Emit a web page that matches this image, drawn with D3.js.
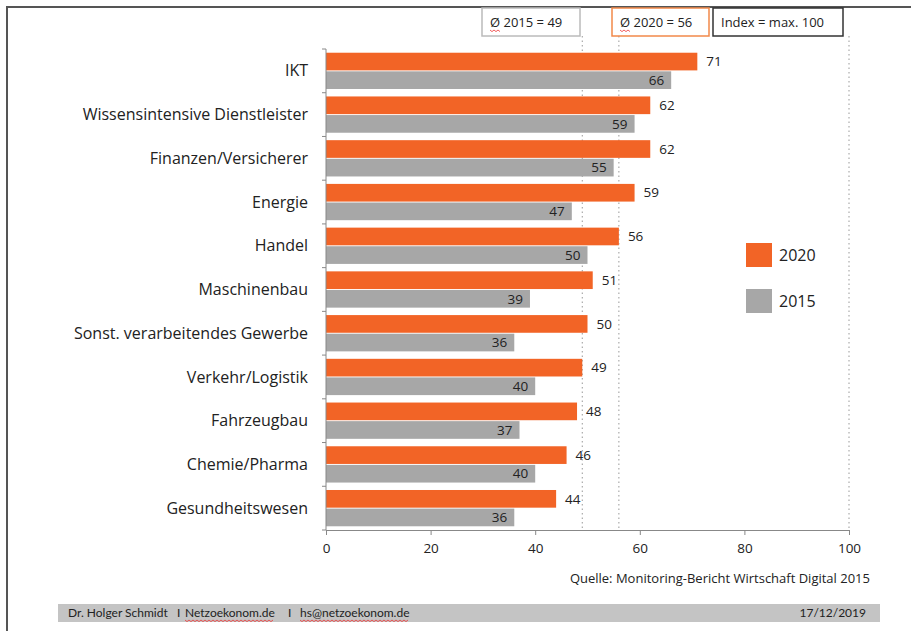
<!DOCTYPE html>
<html>
<head>
<meta charset="utf-8">
<script src="https://cdn.jsdelivr.net/npm/d3@7"></script>
<style>
  body { margin: 0; background: #fff; }
  svg { font-family: Lato, "Open Sans", sans-serif; }
</style>
</head>
<body>
<svg width="911" height="631"></svg>
<script>
const ORANGE = "#F26426";
const GREY = "#A7A7A7";

// Data
const categories = ["IKT", "Wissensintensive Dienstleister", "Finanzen/Versicherer", "Energie", "Handel",
  "Maschinenbau", "Sonst. verarbeitendes Gewerbe", "Verkehr/Logistik", "Fahrzeugbau", "Chemie/Pharma", "Gesundheitswesen"];
const values2020 = [71, 62, 62, 59, 56, 51, 50, 49, 48, 46, 44];
const values2015 = [66, 59, 55, 47, 50, 39, 36, 40, 37, 40, 36];
const seriesNames = ["2020", "2015"];
const xTicks = [0, 20, 40, 60, 80, 100];
const avgLines = [49, 56, 100];
const boxTexts = ["Ø 2015 = 49", "Ø 2020 = 56", "Index = max. 100"];
const footerParts = ["Dr. Holger Schmidt", "I", "Netzoekonom.de", "I", "hs@netzoekonom.de"];

var svg = d3.select("svg");

// frame
svg.append("path")
  .attr("d", "M7,631 V7 H911")
  .attr("fill", "none")
  .attr("stroke", "#555")
  .attr("stroke-width", 2);

var x = d3.scaleLinear().domain([0, 100]).range([326, 849]);
var y = d3.scaleBand().domain(categories).range([49, 530]);
var sub = d3.scaleBand().domain(seriesNames).range([0, y.bandwidth()]).paddingOuter(0.2).paddingInner(0.05);

function wavy(x0, x1, yy) {
  var pts = d3.range(x0, x1, 2).map((px, k) => [px, yy + (k % 2) * 1.6]);
  return d3.line()(pts);
}

// dotted reference lines
svg.selectAll(".ref")
  .data(avgLines)
  .enter().append("line")
  .attr("x1", d => x(d)).attr("x2", d => x(d))
  .attr("y1", 36).attr("y2", 530)
  .attr("stroke", "#999")
  .attr("stroke-width", 1)
  .attr("stroke-dasharray", "1.5,3");

// bars
var g = svg.append("g");
categories.forEach(function (c, i) {
  var y0 = y(c);
  g.append("rect")
    .attr("x", x(0)).attr("y", y0 + sub("2020"))
    .attr("width", x(values2020[i]) - x(0)).attr("height", sub.bandwidth())
    .attr("fill", ORANGE);
  g.append("rect")
    .attr("x", x(0)).attr("y", y0 + sub("2015"))
    .attr("width", x(values2015[i]) - x(0)).attr("height", sub.bandwidth())
    .attr("fill", GREY);
  g.append("text")
    .attr("x", x(values2020[i]) + 9).attr("y", y0 + sub("2020") + sub.bandwidth() / 2)
    .attr("dy", "0.35em").attr("font-size", 13.5).attr("fill", "#222")
    .attr("font-family", "'Open Sans', sans-serif")
    .text(values2020[i]);
  g.append("text")
    .attr("x", x(values2015[i]) - 7).attr("y", y0 + sub("2015") + sub.bandwidth() / 2)
    .attr("dy", "0.35em").attr("font-size", 13.5).attr("fill", "#222")
    .attr("font-family", "'Open Sans', sans-serif")
    .attr("text-anchor", "end")
    .text(values2015[i]);
  g.append("text")
    .attr("x", 308).attr("y", y0 + y.bandwidth() / 2)
    .attr("dy", "0.35em").attr("font-size", 16).attr("fill", "#222")
    .attr("font-family", "'Open Sans', sans-serif")
    .attr("text-anchor", "end")
    .text(c);
});

// left axis line with ticks at band boundaries
svg.append("line")
  .attr("x1", x(0)).attr("x2", x(0)).attr("y1", 49).attr("y2", 530)
  .attr("stroke", "#888");
svg.selectAll(".ytick")
  .data(d3.range(categories.length + 1))
  .enter().append("line")
  .attr("x1", x(0) - 4).attr("x2", x(0))
  .attr("y1", i => 49 + i * y.step()).attr("y2", i => 49 + i * y.step())
  .attr("stroke", "#888");

// bottom axis
var xAxis = svg.append("g")
  .attr("transform", "translate(0,530)")
  .call(d3.axisBottom(x).tickValues(xTicks).tickSize(5).tickSizeOuter(0).tickPadding(8));
xAxis.select(".domain").attr("stroke", "#888");
xAxis.selectAll(".tick line").attr("stroke", "#888");
xAxis.selectAll("text").attr("font-size", 13.5).attr("fill", "#222").attr("font-family", "'Open Sans', sans-serif");

// boxes at top
var boxes = [
  { x0: 482, x1: 580, stroke: "#bbb" },
  { x0: 612, x1: 709, stroke: "#F2894A" },
  { x0: 713, x1: 843, stroke: "#333" }
];
boxes.forEach(function (b, i) {
  svg.append("rect")
    .attr("x", b.x0).attr("y", 8).attr("width", b.x1 - b.x0).attr("height", 28)
    .attr("fill", "#fff").attr("stroke", b.stroke).attr("stroke-width", 1.5);
  svg.append("text")
    .attr("x", b.x0 + 8).attr("y", 22).attr("dy", "0.35em")
    .attr("font-size", 13).attr("fill", "#222")
    .attr("font-family", "'Open Sans', sans-serif")
    .text(boxTexts[i]);
  if (i < 2) {
    svg.append("path")
      .attr("d", wavy(b.x0 + 8, b.x0 + 19, 30))
      .attr("fill", "none").attr("stroke", "#e33").attr("stroke-width", 0.8);
  }
});

// legend
var legend = svg.append("g");
seriesNames.forEach(function (s, i) {
  legend.append("rect")
    .attr("x", 746).attr("y", 243 + i * 46).attr("width", 26).attr("height", 24)
    .attr("fill", i === 0 ? ORANGE : GREY);
  legend.append("text")
    .attr("x", 779).attr("y", 255 + i * 46).attr("dy", "0.35em")
    .attr("font-size", 16).attr("fill", "#222")
    .attr("font-family", "'Open Sans', sans-serif")
    .text(s);
});

// source
svg.append("text")
  .attr("x", 870).attr("y", 578).attr("dy", "0.35em")
  .attr("text-anchor", "end").attr("font-size", 13).attr("fill", "#222")
  .attr("font-family", "'Open Sans', sans-serif")
  .text("Quelle: Monitoring-Bericht Wirtschaft Digital 2015");

// footer bar
svg.append("rect")
  .attr("x", 58).attr("y", 604).attr("width", 822).attr("height", 18)
  .attr("fill", "#c4c4c4");
var footerX = [68, 177, 185, 288, 300];
footerParts.forEach(function (t, i) {
  var txt = svg.append("text")
    .attr("x", footerX[i]).attr("y", 613).attr("dy", "0.35em")
    .attr("font-size", 12).attr("fill", "#222")
    .text(t);
  if (t.indexOf("netzoekonom") >= 0 || t.indexOf("Netzoekonom") >= 0) {
    var w = txt.node().getComputedTextLength();
    svg.append("path")
      .attr("d", wavy(footerX[i], footerX[i] + w, 620))
      .attr("fill", "none").attr("stroke", "#e33").attr("stroke-width", 0.8);
  }
});
svg.append("text")
  .attr("x", 866).attr("y", 613).attr("dy", "0.35em")
  .attr("text-anchor", "end").attr("font-size", 12).attr("fill", "#222")
  .text("17/12/2019");
</script>
</body>
</html>
